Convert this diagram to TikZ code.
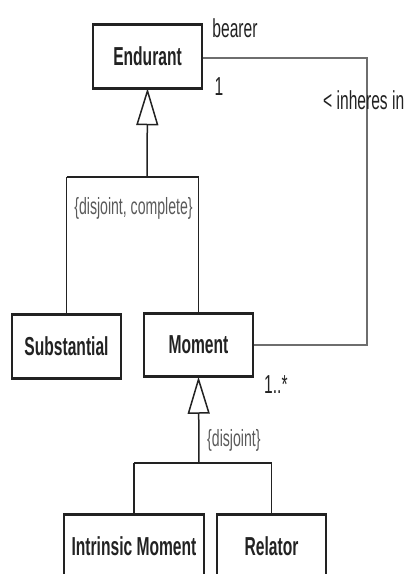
\documentclass[tikz,border=0pt]{standalone}
\usepackage{fontspec}
\setmainfont{Liberation Sans}[FakeStretch=0.6]
\usetikzlibrary{arrows.meta}
\definecolor{ink}{HTML}{222222}
\definecolor{soft}{HTML}{5A5A5A}
\definecolor{assoc}{HTML}{6E6E6E}
\begin{document}
\begin{tikzpicture}[x=1pt,y=-1pt,
  cls/.style={draw=ink, line width=1.5pt, inner sep=0pt, minimum width=109pt,
    minimum height=62pt, font=\fontsize{26}{30}\selectfont\bfseries, text=ink},
  hedge/.style={draw=ink, line width=3pt},
  genline/.style={draw=ink, line width=1.5pt},
  genbar/.style={draw=ink, line width=2.4pt},
  gentip/.style={-{Triangle[open, fill=white, length=37pt, width=22pt, line width=1.5pt]}},
  assocline/.style={draw=assoc, line width=2.4pt},
  lbl/.style={font=\fontsize{26}{30}\selectfont, text=ink, inner sep=0pt},
  cons/.style={font=\fontsize{23.5}{28}\selectfont, text=soft, inner sep=0pt}]
\useasboundingbox (0,0) rectangle (410,574);
\clip (0,0) rectangle (410,574);

% classes
\node[cls] (end) at (147.5,56.5) {Endurant};
\node[cls] (sub) at (66.5,346.5) {Substantial};
\node[cls] (mom) at (198.5,345) {Moment};
\node[cls, minimum width=140pt] (intr) at (134,546) {Intrinsic Moment};
\node[cls] (rel) at (271.5,546) {Relator};

% heavier top and bottom edges of the class boxes
\foreach \n in {end,sub,mom,intr,rel}{
  \draw[hedge] (\n.north west) -- (\n.north east);
  \draw[hedge] (\n.south west) -- (\n.south east);
}

% generalization set of Endurant
\coordinate (g1) at (147,177);
\draw[genline, gentip] (g1) -- (end.south);
\draw[genbar] (sub.north |- g1) -- (mom.north |- g1);
\draw[genline] (sub.north |- g1) -- (sub.north);
\draw[genline] (mom.north |- g1) -- (mom.north);
\node[cons] (gs1) at (133.5,208) {\{disjoint, complete\}};

% generalization set of Moment
\coordinate (g2) at (199,463);
\draw[genline, gentip] (g2) -- (mom.south);
\draw[genbar] (intr.north |- g2) -- (rel.north |- g2);
\draw[genline] (intr.north |- g2) -- (intr.north);
\draw[genline] (rel.north |- g2) -- (rel.north);
\node[cons, anchor=west] (gs2) at (207,440) {\{disjoint\}};

% inherence association
\coordinate (a1) at (367,58);
\coordinate (a2) at (367,345);
\draw[assocline] (end.east |- a1) -- (a1) -- (a2) -- (mom.east |- a2);
\node[lbl] (role) at (235,28) {bearer};
\node[lbl] (m1) at (219,87) {1};
\node[lbl, anchor=west] (rname) at (323,100) {< inheres in};
\node[lbl, anchor=west] (m2) at (264,385) {1..*};
\end{tikzpicture}
\end{document}
